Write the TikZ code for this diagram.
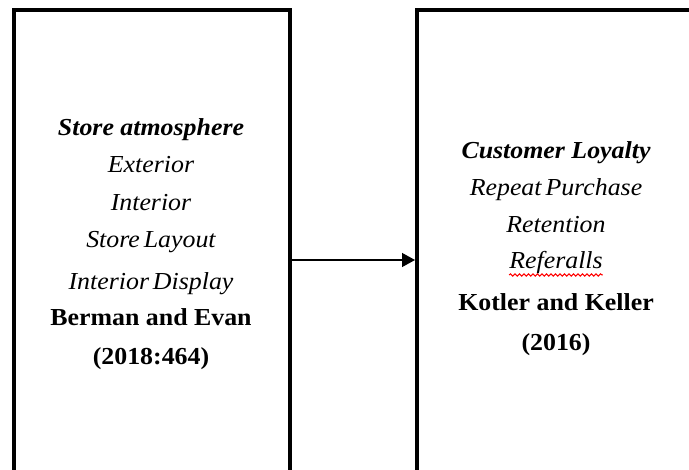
\documentclass[tikz,border=0pt]{standalone}
\usepackage{fontspec}
\setmainfont[FakeStretch=1.06]{Liberation Serif}
\newfontfamily\tightfam[FakeStretch=1.06,WordSpace={0.6}]{Liberation Serif}
\usetikzlibrary{arrows.meta,decorations.pathmorphing}
\begin{document}
\begin{tikzpicture}[x=1bp,y=-1bp,
  frame/.style={draw=black,line width=4bp,fill=none},
  txt/.style={inner sep=0pt,font=\fontsize{24.5}{28}\selectfont,anchor=base},
  it/.style={txt,font=\fontsize{24.5}{28}\selectfont\tightfam\itshape},
  bi/.style={txt,font=\fontsize{24.5}{28}\selectfont\bfseries\itshape},
  bo/.style={txt,font=\fontsize{24.5}{28}\selectfont\bfseries},
  conn/.style={line width=1.3bp,-{Triangle[length=13bp,width=14bp]}}]
\useasboundingbox (0,0) rectangle (689,470);
\clip (0,0) rectangle (689,470);
\coordinate (l1) at (14,10);
\coordinate (l2) at (290,490);
\coordinate (r1) at (417,10);
\coordinate (r2) at (710,490);
\draw[frame] (l1) rectangle (l2);
\draw[frame] (r1) rectangle (r2);
\node[bi] (a1) at (151,136) {Store atmosphere};
\node[it] (a2) at (151,173) {Exterior};
\node[it] (a3) at (151,211) {Interior};
\node[it] (a4) at (151,248) {Store Layout};
\node[it] (a5) at (151,290) {Interior Display};
\node[bo] (a6) at (151,326) {Berman and Evan};
\node[bo] (a7) at (151,364) {(2018:464)};
\node[bi] (b1) at (556,159) {Customer Loyalty};
\node[it] (b2) at (556,196) {Repeat Purchase};
\node[it] (b3) at (556,233) {Retention};
\node[it] (b4) at (556,269) {Referalls};
\node[bo] (b5) at (556,311) {Kotler and Keller};
\node[bo] (b6) at (556,350) {(2016)};
\draw[red,line width=1bp,decorate,decoration={snake,amplitude=1.2bp,segment length=4.5bp}]
  ([yshift=-6bp]b4.base west) -- ([yshift=-6bp]b4.base east);
\coordinate (s) at (292,260);
\coordinate (e) at (415,260);
\draw[conn] (s) -- (e);
\end{tikzpicture}
\end{document}
